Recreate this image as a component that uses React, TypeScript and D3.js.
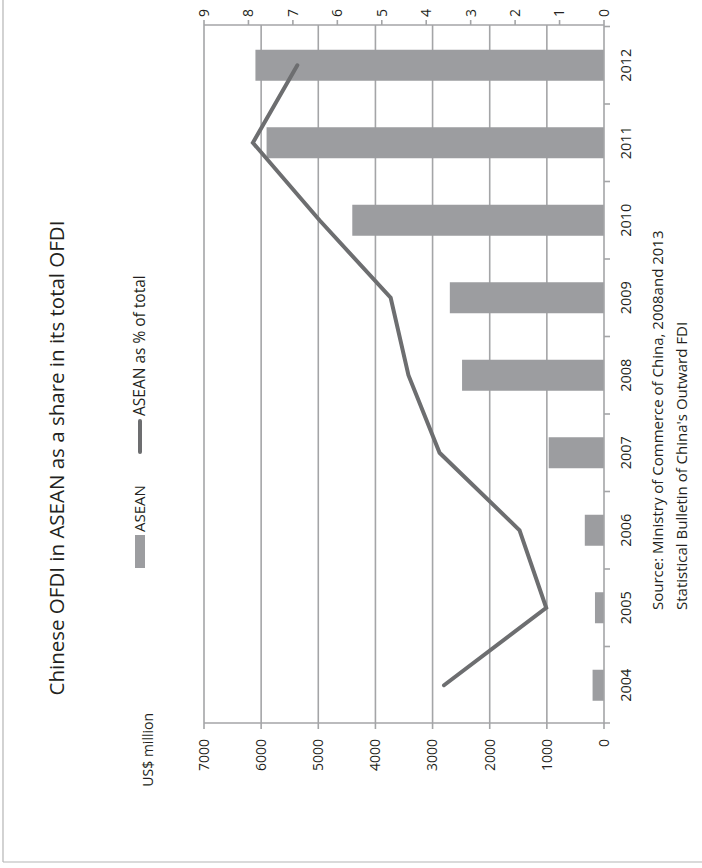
import React from "react";
import * as d3 from "d3";

const years = ["2004", "2005", "2006", "2007", "2008", "2009", "2010", "2011", "2012"];
const aseanUsd = [200, 158, 336, 968, 2484, 2698, 4405, 5905, 6100];
const aseanPct = [3.6, 1.3, 1.9, 3.7, 4.4, 4.8, 6.4, 7.9, 6.9];
const leftTicks = [0, 1000, 2000, 3000, 4000, 5000, 6000, 7000];
const rightTicks = [0, 1, 2, 3, 4, 5, 6, 7, 8, 9];

const W = 702;
const H = 868;
const FONT = "'Open Sans', 'Noto Sans', sans-serif";
const TEXT = "#231f20";
const GRID = "#a4a5a7";
const BAR = "#9c9da0";
const LINE = "#6d6e70";

export default function App() {
  const yBand = d3.scaleBand<string>().domain(years).range([724, 26.5]).paddingInner(0.6).paddingOuter(0.3);
  const yOuter = d3.scaleBand<string>().domain(years).range([724, 26.5]);
  const xVal = d3.scaleLinear().domain([0, 7000]).range([604, 204]);
  const xPct = d3.scaleLinear().domain([0, 9]).range([604, 204]);

  const lineGen = d3
    .line<number>()
    .x((d) => xPct(d))
    .y((_, i) => (yOuter(years[i]) as number) + yOuter.bandwidth() / 2);

  const boundaries = years.map((y) => yOuter(y) as number);

  const rot = (x: number, y: number) => `translate(${x},${y}) rotate(-90)`;

  return (
    <svg width={W} height={H} style={{ position: "absolute", left: 0, top: 0, background: "#fff" }} fontFamily={FONT}>
      {/* frame */}
      <line x1={3} y1={0} x2={3} y2={862} stroke="#b5b5b5" strokeWidth={1.2} />
      <line x1={3} y1={862} x2={W} y2={862} stroke="#b5b5b5" strokeWidth={1.2} />

      {/* gridlines */}
      {leftTicks.slice(1).map((t) => (
        <line key={"g" + t} x1={xVal(t)} x2={xVal(t)} y1={25} y2={723} stroke={GRID} strokeWidth={1.6} />
      ))}

      {/* bars */}
      {years.map((y, i) => (
        <rect
          key={"b" + y}
          x={xVal(aseanUsd[i])}
          y={yBand(y) as number}
          width={xVal(0) - xVal(aseanUsd[i])}
          height={yBand.bandwidth()}
          fill={BAR}
        />
      ))}

      {/* line */}
      <path d={lineGen(aseanPct) || ""} fill="none" stroke={LINE} strokeWidth={4} strokeLinejoin="miter" strokeLinecap="round" />

      {/* left value axis (bottom in image) */}
      <line x1={204} x2={610} y1={723} y2={723} stroke={GRID} strokeWidth={1.6} />
      {leftTicks.map((t) => (
        <line key={"lt" + t} x1={xVal(t)} x2={xVal(t)} y1={723} y2={729} stroke={GRID} strokeWidth={1.6} />
      ))}
      {leftTicks.map((t) => (
        <text key={"ll" + t} transform={rot(xVal(t), 739)} textAnchor="end" dy="0.35em" fontSize={14} fill={TEXT}>
          {t}
        </text>
      ))}

      {/* right pct axis (top in image) */}
      <line x1={204} x2={604} y1={25} y2={25} stroke={GRID} strokeWidth={1.6} />
      {rightTicks.map((t) => (
        <line key={"rt" + t} x1={xPct(t)} x2={xPct(t)} y1={20} y2={25} stroke={GRID} strokeWidth={1.6} />
      ))}
      {rightTicks.map((t) => (
        <text key={"rl" + t} transform={rot(xPct(t), 17)} textAnchor="start" dy="0.35em" fontSize={14} fill={TEXT}>
          {t}
        </text>
      ))}

      {/* category axis */}
      <line x1={604} x2={604} y1={25} y2={724} stroke={GRID} strokeWidth={1.6} />
      {boundaries.map((b, i) => (
        <line key={"ct" + i} x1={604} x2={610} y1={b} y2={b} stroke={GRID} strokeWidth={1.6} />
      ))}
      {years.map((y) => (
        <text
          key={"yl" + y}
          transform={rot(626, (yOuter(y) as number) + yOuter.bandwidth() / 2)}
          textAnchor="middle"
          dy="0.35em"
          fontSize={14.5}
          fill={TEXT}
        >
          {y}
        </text>
      ))}

      {/* title */}
      <text transform={rot(57, 458)} textAnchor="middle" dy="0.35em" fontSize={20.5} fill={TEXT}>
        Chinese OFDI in ASEAN as a share in its total OFDI
      </text>

      {/* axis unit */}
      <text transform={rot(148, 713)} textAnchor="end" dy="0.35em" fontSize={14} fill={TEXT}>
        US$ million
      </text>

      {/* legend */}
      <rect x={135} y={535} width={10} height={33} fill={BAR} />
      <text transform={rot(139.5, 532)} textAnchor="start" dy="0.35em" fontSize={15} fill={TEXT}>
        ASEAN
      </text>
      <line x1={140} x2={140} y1={421} y2={452} stroke={LINE} strokeWidth={4} strokeLinecap="round" />
      <text transform={rot(139.5, 416)} textAnchor="start" dy="0.35em" fontSize={15.5} fill={TEXT}>
        ASEAN as % of total
      </text>

      {/* source */}
      <text transform={rot(658, 610)} textAnchor="start" dy="0.35em" fontSize={15} fill={TEXT}>
        Source: Ministry of Commerce of China, 2008and 2013
      </text>
      <text transform={rot(682, 610)} textAnchor="start" dy="0.35em" fontSize={15} fill={TEXT}>
        Statistical Bulletin of China's Outward FDI
      </text>
    </svg>
  );
}
